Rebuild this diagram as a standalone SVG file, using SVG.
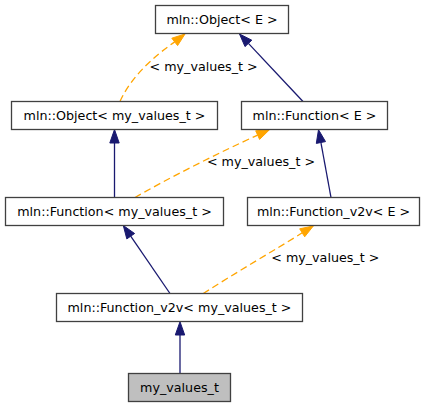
<svg xmlns="http://www.w3.org/2000/svg" width="427" height="408" viewBox="0 0 427 408">
<style>
.box rect{fill:#fff;stroke:#404040;stroke-width:1.3}
.box.cur rect{fill:#bfbfbf}
text{font-family:"DejaVu Sans","Liberation Sans",sans-serif;font-size:12.7px;fill:#000;text-anchor:middle}
.inh{fill:none;stroke:#191970;stroke-width:1.3}
.inhh{fill:#191970;stroke:#191970;stroke-width:1}
.tpl{fill:none;stroke:#ffa500;stroke-width:1.3;stroke-dasharray:7,4}
.tplh{fill:#ffa500;stroke:#ffa500;stroke-width:1}
</style>
<rect width="427" height="408" fill="#fff"/>
<g id="edges">
  <path class="tpl" d="M120,101.5 C126,88 140,66 174.7,41.9"/>
  <polygon class="tplh" points="185,34 177.6,45.6 171.8,38.2"/>
  <text x="203.6" y="70.5">&lt; my_values_t &gt;</text>

  <path class="inh" d="M303,101.5 L248.4,43.4"/>
  <polygon class="inhh" points="239.5,34 251.8,40.2 245,46.6"/>

  <path class="inh" d="M114.5,197.5 L114.5,143"/>
  <polygon class="inhh" points="114.5,129.5 119.2,143 109.8,143"/>

  <path class="inh" d="M331,197.5 L320.9,142.5"/>
  <polygon class="inhh" points="318.5,129.7 325.5,141.6 316.3,143.4"/>

  <path class="tpl" d="M135,197.5 C165,180 220,152 257.7,135.1"/>
  <polygon class="tplh" points="269.5,129.7 259.6,139.4 255.7,130.8"/>
  <text x="261" y="166">&lt; my_values_t &gt;</text>

  <path class="inh" d="M170,293.5 L130.7,236.2"/>
  <polygon class="inhh" points="123.3,225.5 134.6,233.5 126.8,238.9"/>

  <path class="tpl" d="M203.3,293.5 C235,273 275,250 302.2,232.8"/>
  <polygon class="tplh" points="313.3,226 304.7,236.8 299.7,228.8"/>
  <text x="325.3" y="261.7">&lt; my_values_t &gt;</text>

  <path class="inh" d="M180,373.5 L180,335"/>
  <polygon class="inhh" points="180,321.7 184.7,335 175.3,335"/>
</g>
<g id="node_object_E" class="box">
  <rect x="155.5" y="5.5" width="133" height="28"/>
  <text x="222" y="24">mln::Object&lt; E &gt;</text>
</g>
<g id="node_object_mvt" class="box">
  <rect x="11.5" y="101.5" width="206" height="28"/>
  <text x="114.5" y="120">mln::Object&lt; my_values_t &gt;</text>
</g>
<g id="node_function_E" class="box">
  <rect x="241.5" y="101.5" width="146" height="28"/>
  <text x="314.5" y="120">mln::Function&lt; E &gt;</text>
</g>
<g id="node_function_mvt" class="box">
  <rect x="5.5" y="197.5" width="218" height="28"/>
  <text x="114.5" y="216">mln::Function&lt; my_values_t &gt;</text>
</g>
<g id="node_function_v2v_E" class="box">
  <rect x="247.5" y="197.5" width="172" height="28"/>
  <text x="333.5" y="216">mln::Function_v2v&lt; E &gt;</text>
</g>
<g id="node_function_v2v_mvt" class="box">
  <rect x="56.5" y="293.5" width="246" height="28"/>
  <text x="179.5" y="312">mln::Function_v2v&lt; my_values_t &gt;</text>
</g>
<g id="node_my_values_t" class="box cur">
  <rect x="128.5" y="373.5" width="102" height="28"/>
  <text x="179.5" y="392">my_values_t</text>
</g>
</svg>
